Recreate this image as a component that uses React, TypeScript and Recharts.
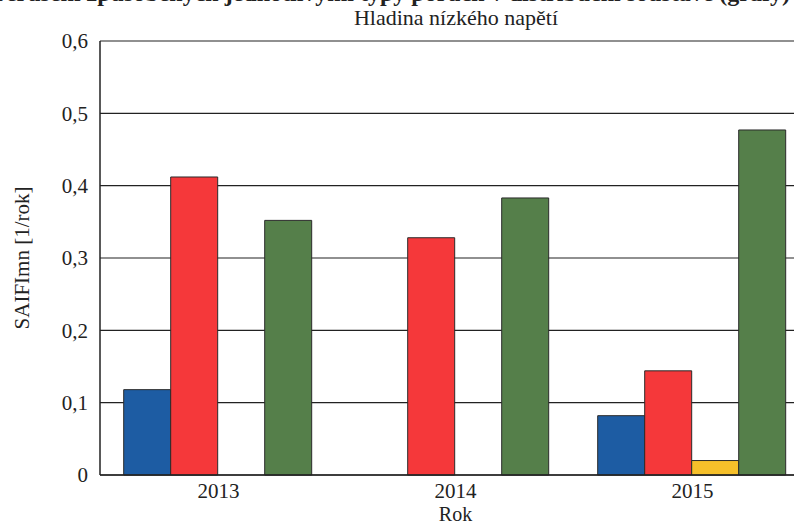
import { Bar, BarChart, CartesianGrid, XAxis, YAxis, Label } from 'recharts'

const years = ['2013', '2014', '2015']
const blueValues = [0.118, 0, 0.082]
const redValues = [0.412, 0.328, 0.144]
const yellowValues = [0, 0, 0.02]
const greenValues = [0.352, 0.383, 0.477]
const yTicks = [0, 0.1, 0.2, 0.3, 0.4, 0.5, 0.6]

const data = years.map((year, i) => ({
  year,
  blue: blueValues[i],
  red: redValues[i],
  yellow: yellowValues[i],
  green: greenValues[i],
}))

const font = '"Liberation Serif", "Times New Roman", serif'
const ink = '#222'

export default function App() {
  return (
    <div
      style={{
        position: 'absolute',
        left: 0,
        top: 0,
        width: 794,
        height: 526,
        overflow: 'hidden',
        background: '#fff',
        fontFamily: font,
      }}
    >
      <div
        style={{
          position: 'absolute',
          right: 4,
          top: -16,
          whiteSpace: 'nowrap',
          fontSize: 24,
          lineHeight: '18px',
          fontWeight: 'bold',
          color: ink,
        }}
      >
        Četnost přerušení způsobených jednotlivými typy poruch v distribuční soustavě (grafy)
      </div>
      <div
        style={{
          position: 'absolute',
          left: 206,
          width: 500,
          top: 10,
          textAlign: 'center',
          fontSize: 22,
          lineHeight: '16px',
          color: ink,
        }}
      >
        Hladina nízkého napětí
      </div>
      <BarChart
        width={830}
        height={526}
        data={data}
        margin={{ top: 41, right: 19, left: 0, bottom: 0 }}
        barCategoryGap="10%"
        barGap={0}
        style={{ position: 'absolute', left: 0, top: 0 }}
      >
        <CartesianGrid stroke={ink} strokeWidth={1.2} vertical={false} />
        <XAxis
          dataKey="year"
          height={51}
          axisLine={{ stroke: ink, strokeWidth: 1.5 }}
          tickLine={false}
          tick={{ fill: ink, fontSize: 21, fontFamily: font }}
          tickMargin={2}
        >
          <Label value="Rok" position="insideBottom" offset={5} style={{ fill: ink, fontSize: 20, fontFamily: font }} />
        </XAxis>
        <YAxis
          width={100}
          domain={[0, 0.6]}
          ticks={yTicks}
          interval={0}
          axisLine={{ stroke: ink, strokeWidth: 1.5 }}
          tickLine={false}
          tickMargin={6}
          tick={{ fill: ink, fontSize: 21, fontFamily: font }}
          tickFormatter={(v: number) => (v === 0 ? '0' : v.toFixed(1).replace('.', ','))}
        >
          <Label
            value="SAIFImn [1/rok]"
            angle={-90}
            position="insideLeft"
            offset={22}
            style={{ fill: ink, fontSize: 21, fontFamily: font, textAnchor: 'middle' }}
          />
        </YAxis>
        <Bar dataKey="blue" fill="#1d5ca3" stroke="#2a2a2a" strokeWidth={1} isAnimationActive={false} />
        <Bar dataKey="red" fill="#f5383a" stroke="#2a2a2a" strokeWidth={1} isAnimationActive={false} />
        <Bar dataKey="yellow" fill="#f6c02a" stroke="#2a2a2a" strokeWidth={1} isAnimationActive={false} />
        <Bar dataKey="green" fill="#557f4a" stroke="#2a2a2a" strokeWidth={1} isAnimationActive={false} />
      </BarChart>
    </div>
  )
}
